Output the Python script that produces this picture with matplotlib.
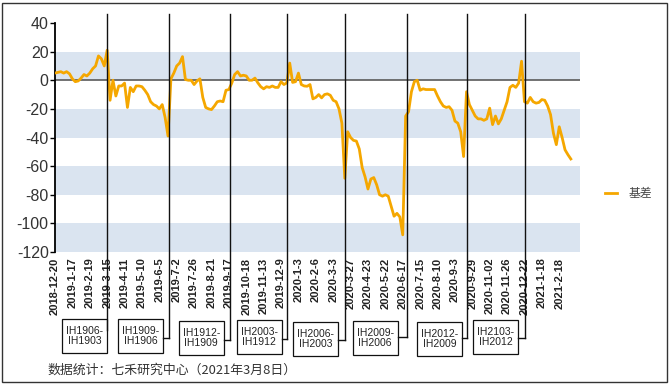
import matplotlib
matplotlib.use('Agg')
import matplotlib.pyplot as plt
import numpy as np
from matplotlib.patches import Rectangle
from matplotlib.lines import Line2D

plt.rcParams['font.family'] = ['Liberation Sans', 'Noto Sans CJK SC', 'DejaVu Sans']
plt.rcParams['axes.unicode_minus'] = False

# ---- data ----
tick_labels = ['2018-12-20', '2019-1-17', '2019-2-19', '2019-3-15', '2019-4-11', '2019-5-10',
               '2019-6-5', '2019-7-2', '2019-7-26', '2019-8-21', '2019-9-17', '2019-10-18',
               '2019-11-13', '2019-12-9', '2020-1-3', '2020-2-6', '2020-3-3', '2020-3-27',
               '2020-4-23', '2020-5-22', '2020-6-17', '2020-7-15', '2020-8-10', '2020-9-3',
               '2020-9-29', '2020-11-02', '2020-11-26', '2020-12-22', '2021-1-18', '2021-2-18']
TICK_EVERY = 18   # trading days between tick labels
STEP = 3          # trading days between samples below

basis = [5, 5.5, 6, 5, 6, 4.5, 1, -1, -0.5, 1.5,
         4, 3, 5, 8, 10, 17, 15, 10, 21, -14,
         0, -11, -4, -4, -2, -19, -5, -8, -4, -4,
         -4.5, -7, -10, -15, -17, -18, -20, -17, -26, -39,
         1, 5, 10, 12, 16.5, 0.5, 0, 0, -3, -0.5,
         1, -12, -19, -20, -20.5, -18, -15, -14.5, -15, -7,
         -6.5, -2, 4, 6, 3, 3.5, 3, 0, 0, 1.5,
         -1.8, -4.5, -6, -4.5, -5, -4, -5, -5, -1, -3,
         -1.8, 12, -1.5, -1, 5, -3, -4, -4.2, -3, -13,
         -12, -10, -12.3, -10, -9.5, -10.5, -14, -15, -20, -30,
         -68.5, -36, -40, -42, -42.5, -48, -61, -67.5, -76, -69,
         -68, -73, -80, -81, -80, -81, -88, -95, -93, -95.5,
         -108, -25, -22, -8, -1, 0, -7, -6, -6.5, -6.5,
         -6.5, -6.5, -11, -15, -18, -19, -18.5, -21, -28.5, -30,
         -36, -53.3, -8, -17, -21, -25, -27, -27, -28, -27,
         -19.5, -31, -25, -30.5, -27, -21, -15, -5, -3.5, -5,
         -2, 13.3, -15, -16, -12, -15, -16, -15.5, -13.5, -14,
         -18, -24, -37, -45, -32.5, -40, -48.6, -52, -55]

roll_days = [54, 118, 181, 240, 300, 364, 427, 487]
roll_labels = ['IH1906-\nIH1903', 'IH1909-\nIH1906', 'IH1912-\nIH1909', 'IH2003-\nIH1912',
               'IH2006-\nIH2003', 'IH2009-\nIH2006', 'IH2012-\nIH2009', 'IH2103-\nIH2012']

# ---- layout ----
W, H = 671, 386
fig = plt.figure(figsize=(W / 100, H / 100), dpi=100)
fig.patch.set_facecolor('white')
ax = fig.add_axes([55 / W, 1 - 252 / H, 525 / W, 229 / H])

days = np.arange(len(basis)) * STEP
for lo in [0, -40, -80, -120]:
    ax.axhspan(lo, lo + 20, color='#dae4f0', lw=0, zorder=0)
ax.axhline(0, color='#5a5a5a', lw=1.2, zorder=1)
ax.plot(days, basis, color='#F5A700', lw=2.0, label='基差', zorder=3, solid_joinstyle='round')

ax.set_xlim(0, 543.5)
ax.set_ylim(-120, 40)
ax.set_yticks(np.arange(-120, 41, 20))
ax.set_xticks(np.arange(len(tick_labels)) * TICK_EVERY)
ax.set_xticklabels(tick_labels, rotation=90, fontsize=8, fontweight='bold', color='#222222')
ax.tick_params(axis='x', length=0, pad=4)
ax.tick_params(axis='y', length=3.5, width=1, color='black', labelsize=11.5,
               labelcolor='#333333', pad=1)
for s in ['top', 'right', 'bottom']:
    ax.spines[s].set_visible(False)
ax.spines['left'].set_color('black')
ax.spines['left'].set_linewidth(1.3)
ax.set_facecolor('white')

leg = ax.legend(loc='center left', bbox_to_anchor=(605 / W, 1 - 194 / H),
                bbox_transform=fig.transFigure, frameon=False, handlelength=1.0,
                handletextpad=1.0, borderpad=0, borderaxespad=0,
                prop={'family': ['Noto Sans CJK SC', 'DejaVu Sans'], 'size': 8.5})
for t in leg.get_texts():
    t.set_color('#444444')

# roll markers and boxes
box_gap = [0, 6, 6, 5, 7, 9, 5, 7]
box_top = [319, 319, 321, 320, 322, 321, 322, 320]
conn_y = [330, 338, 340, 339, 340, 337, 338, 338]
BW, BH = 45, 34
for r, lab, g, bt, cy in zip(roll_days, roll_labels, box_gap, box_top, conn_y):
    xp = ax.transData.transform((r, 0))[0]
    fig.add_artist(Line2D([xp / W, xp / W], [1 - 14 / H, 1 - cy / H],
                          transform=fig.transFigure, color='#111111', lw=1.0, zorder=2))
    right = xp - g
    fig.add_artist(Line2D([right / W, xp / W], [1 - cy / H, 1 - cy / H],
                          transform=fig.transFigure, color='#111111', lw=1.0))
    left = right - BW
    fig.add_artist(Rectangle((left / W, 1 - (bt + BH) / H), BW / W, BH / H,
                             transform=fig.transFigure, facecolor='white',
                             edgecolor='#111111', lw=0.9))
    fig.text((left + BW / 2) / W, 1 - (bt + BH / 2) / H, lab, ha='center', va='center',
             fontsize=7.5, color='#222222', linespacing=1.1)

fig.text(47 / W, 1 - 370 / H, '数据统计：七禾研究中心（2021年3月8日）', fontsize=9.3,
         va='center', ha='left', color='#333333',
         family=['Noto Sans CJK SC', 'DejaVu Sans'])

fig.add_artist(Rectangle((2 / W, 1 - 382 / H), 665 / W, 379 / H, transform=fig.transFigure,
                         fill=False, edgecolor='#333333', lw=1.0))

fig.savefig('out.png', dpi=100)
